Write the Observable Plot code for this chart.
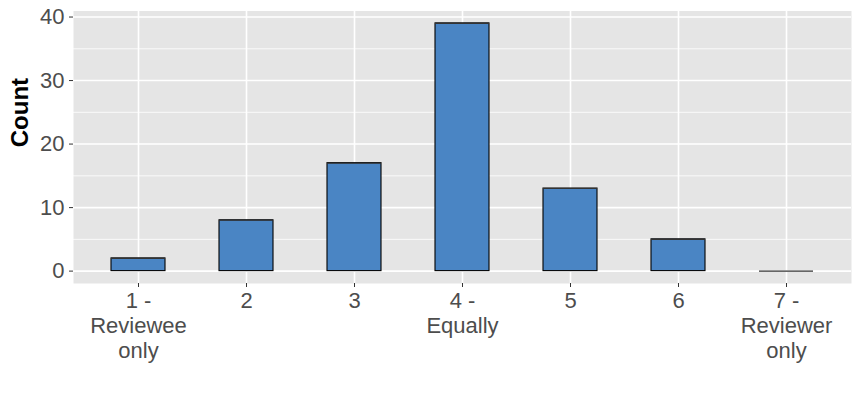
<!DOCTYPE html>
<html>
<head>
<meta charset="utf-8">
<script src="https://cdn.jsdelivr.net/npm/d3@7"></script>
<script src="https://cdn.jsdelivr.net/npm/@observablehq/plot@0.6"></script>
<style>
  html, body { margin: 0; padding: 0; background: white; }
</style>
</head>
<body>
<div id="chart"></div>
<script>
const categories = ["1", "2", "3", "4", "5", "6", "7"];
const tickLabels = ["1 -\nReviewee\nonly", "2", "3", "4 -\nEqually", "5", "6", "7 -\nReviewer\nonly"];
const counts = [2, 8, 17, 39, 13, 5, 0];
const yMajor = [0, 10, 20, 30, 40];
const yMinor = [5, 15, 25, 35];

const data = categories.map((c, i) => ({cat: c, count: counts[i]}));
const labelOf = new Map(categories.map((c, i) => [c, tickLabels[i]]));

const chart = Plot.plot({
  width: 861,
  height: 400,
  marginLeft: 73,
  marginRight: 10,
  marginTop: 10.5,
  marginBottom: 117,
  style: {fontFamily: "'Liberation Sans', Arial, sans-serif", fontSize: "22px", background: "white", overflow: "visible"},
  x: {type: "band", domain: categories, paddingInner: 0.5, paddingOuter: 0.35, align: 0.5, label: null},
  y: {domain: [-1.95, 40.95], label: null},
  marks: [
    Plot.frame({fill: "#e5e5e5", stroke: null}),
    Plot.gridY(yMinor, {stroke: "white", strokeOpacity: 1, strokeWidth: 0.8}),
    Plot.gridY(yMajor, {stroke: "white", strokeOpacity: 1, strokeWidth: 1.6}),
    Plot.gridX(categories, {stroke: "white", strokeOpacity: 1, strokeWidth: 1.6}),
    Plot.barY(data, {x: "cat", y: "count", fill: "#4a85c4", stroke: "black", strokeWidth: 1.1}),
    Plot.tickY(data, {x: "cat", y: "count", stroke: "#333", strokeWidth: 1.1}),
    Plot.axisY(yMajor, {tickSize: 4, tickPadding: 5, stroke: "#333", fill: "#4d4d4d", fontSize: 22, label: null}),
    Plot.axisX({tickSize: 4, tickPadding: 3, stroke: "#333", fill: "#4d4d4d", fontSize: 22, lineHeight: 1.14, tickFormat: d => labelOf.get(d), label: null}),
    Plot.text(["Count"], {frameAnchor: "left", dx: -53, rotate: -90, fontWeight: "bold", fontSize: 24, fill: "black"})
  ]
});
document.getElementById("chart").appendChild(chart);
</script>
</body>
</html>
